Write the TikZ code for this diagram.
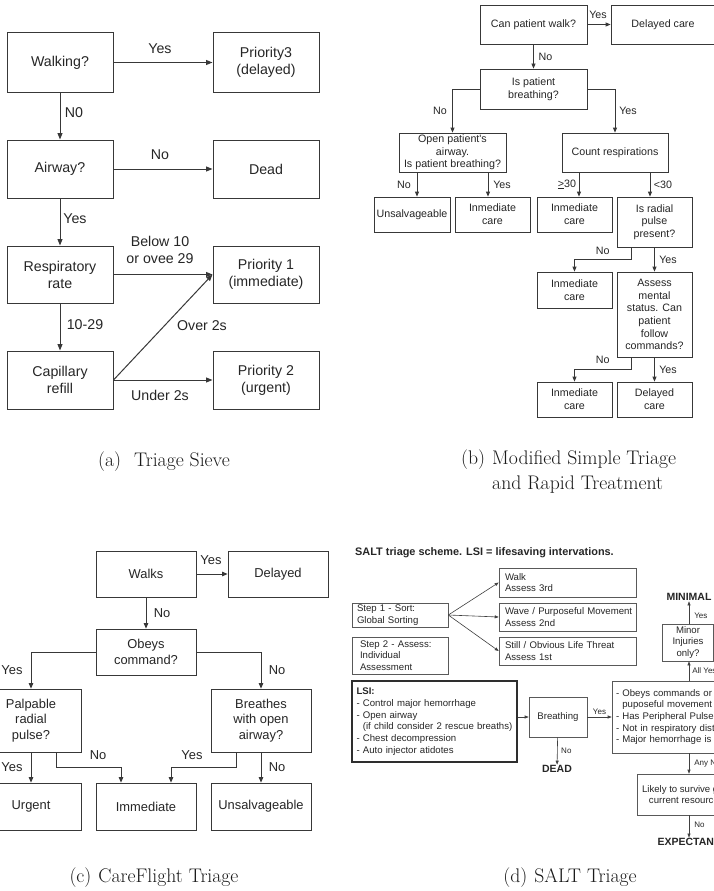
\documentclass[tikz,border=0pt]{standalone}
\usepackage{fontspec}
\newfontfamily\arial{Liberation Sans}
\usetikzlibrary{arrows.meta}

% font sizes for the four flowcharts and the captions
\newcommand\ffA{\arial\fontsize{14.2}{17}\selectfont}
\newcommand\ffB{\arial\fontsize{10.7}{12.7}\selectfont}
\newcommand\ffC{\arial\fontsize{12.9}{15.7}\selectfont}
\newcommand\ffD{\arial\fontsize{9.6}{11.7}\selectfont}
\newcommand\ffL{\arial\fontsize{8}{9.6}\selectfont}
\newcommand\ffO{\arial\bfseries\fontsize{10.5}{12}\selectfont}
\newcommand\ffT{\arial\bfseries\fontsize{10.9}{13}\selectfont}
\newcommand\ffCap{\fontsize{19.7}{25}\selectfont}

\tikzset{
  base/.style={inner sep=0pt, text=black!85, align=center},
  boxa/.style={base, draw=black!78, line width=1pt, minimum width=106pt, font=\ffA},
  boxb/.style={base, draw=black!78, line width=0.8pt, font=\ffB},
  boxc/.style={base, draw=black!78, line width=0.8pt, minimum width=100pt, font=\ffC},
  boxd/.style={base, draw=black!65, line width=0.6pt, font=\ffD},
  lboxd/.style={boxd, align=left, inner ysep=0pt},
  outd/.style={inner sep=0.5pt, text=black!85, font=\ffO},
  laba/.style={base, font=\ffA},
  labb/.style={base, font=\ffB},
  labc/.style={base, font=\ffC},
  labd/.style={base, font=\ffL},
  arra/.style={draw=black!78, line width=1pt, -{Triangle[length=6.5pt,width=5pt]}},
  arrb/.style={draw=black!78, line width=0.8pt, -{Triangle[length=5pt,width=4pt]}},
  arrc/.style={draw=black!78, line width=0.8pt, -{Triangle[length=5.5pt,width=4.5pt]}},
  arrd/.style={draw=black!75, line width=0.6pt, -{Triangle[length=4pt,width=3pt]}},
  captext/.style={inner sep=0pt, text=black!90, font=\ffCap},
}

\begin{document}
\begin{tikzpicture}[x=1pt, y=-1pt]
\useasboundingbox (0,0) rectangle (714,891);
\fill[white] (0,0) rectangle (714,891);
\clip (0,0) rectangle (714,891);

% ---------------- (a) Triage Sieve ----------------
\node[boxa, minimum height=59pt] (wa)   at (60,62.5)  {Walking?};
\node[boxa, minimum height=59pt] (p3)   at (266,62.5) {Priority3\\(delayed)};
\node[boxa, minimum height=58pt] (aw)   at (60,169)   {Airway?};
\node[boxa, minimum height=58pt] (dead) at (266,169)  {Dead};
\node[boxa, minimum height=57pt] (rr)   at (60,274.5) {Respiratory\\rate};
\node[boxa, minimum height=57pt] (p1)   at (266,274.5){Priority 1\\(immediate)};
\node[boxa, minimum height=58pt] (cr)   at (60,380)   {Capillary\\refill};
\node[boxa, minimum height=58pt] (p2)   at (266,380)  {Priority 2\\(urgent)};

\draw[arra] (wa) -- (p3) node[laba, midway, xshift=-3pt, yshift=13.5pt] {Yes};
\draw[arra] (wa) -- (aw) node[laba, midway, xshift=14pt, yshift=3pt] {N0};
\draw[arra] (aw) -- (dead) node[laba, midway, xshift=-3pt, yshift=14pt] {No};
\draw[arra] (aw) -- (rr) node[laba, midway, xshift=15pt, yshift=3pt] {Yes};
\draw[arra] (rr) -- (p1) node[laba, midway, xshift=-3pt, yshift=25pt] {Below 10\\or ovee 29};
\draw[arra] (rr) -- (cr) node[laba, midway, xshift=25pt, yshift=2pt] {10-29};
\draw[arra] (cr.east) -- (p1.west) node[laba, midway, xshift=39pt, yshift=2pt] {Over 2s};
\draw[arra] (cr) -- (p2) node[laba, midway, xshift=-3pt, yshift=-15pt] {Under 2s};

\node[captext] (capa) at (164,462) {(a)\hspace{13pt}Triage Sieve};

% ---------------- (b) Modified START ----------------
\node[boxb, minimum width=107pt, minimum height=39pt] (b1) at (533.5,24.5) {Can patient walk?};
\node[boxb, minimum width=104pt, minimum height=39pt] (b2) at (663,24.5) {Delayed care};
\node[boxb, minimum width=107pt, minimum height=40pt] (b3) at (533.5,89) {Is patient\\breathing?};
\node[boxb, minimum width=107pt, minimum height=39pt] (b4) at (452.5,152.5) {Open patient's\\airway.\\Is patient breathing?};
\node[boxb, minimum width=106pt, minimum height=39pt] (b5) at (615,152.5) {Count respirations};
\node[boxb, minimum width=76pt, minimum height=35pt] (b6) at (412,214.5) {Unsalvageable};
\node[boxb, minimum width=75pt, minimum height=35pt] (b7) at (492.5,214.5) {Inmediate\\care};
\node[boxb, minimum width=75pt, minimum height=35pt] (b8) at (574.5,214.5) {Inmediate\\care};
\node[boxb, minimum width=75pt, minimum height=50pt] (b9) at (654.5,222) {Is radial\\pulse\\present?};
\node[boxb, minimum width=75pt, minimum height=36pt] (b10) at (574.5,290) {Inmediate\\care};
\node[boxb, minimum width=75pt, minimum height=85pt] (b11) at (654.5,314.5) {Assess\\mental\\status. Can\\patient\\follow\\commands?};
\node[boxb, minimum width=75pt, minimum height=35pt] (b12) at (574.5,399.5) {Inmediate\\care};
\node[boxb, minimum width=75pt, minimum height=35pt] (b13) at (654.5,399.5) {Delayed\\care};

\draw[arrb] (b1) -- (b2) node[labb, midway, xshift=-1pt, yshift=9.5pt] {Yes};
\draw[arrb] (b1) -- (b3) node[labb, midway, xshift=12pt] {No};
\draw[arrb] (b3.west) -| (b4.north) node[labb, pos=0.75, xshift=-12.5pt] {No};
\draw[arrb] (b3.east) -| (b5.north) node[labb, pos=0.75, xshift=13pt] {Yes};
\draw[arrb] ([xshift=-35.5pt]b4.south) -- ([xshift=-35.5pt]b4.south |- b6.north)
  node[labb, midway, xshift=-13pt] {No};
\draw[arrb] ([xshift=35.5pt]b4.south) -- ([xshift=35.5pt]b4.south |- b7.north)
  node[labb, midway, xshift=14pt] {Yes};
\draw[arrb] ([xshift=-36pt]b5.south) -- ([xshift=-36pt]b5.south |- b8.north)
  node[labb, midway, xshift=-12pt] {\underline{>}30};
\draw[arrb] ([xshift=35pt]b5.south) -- ([xshift=35pt]b5.south |- b9.north)
  node[labb, midway, xshift=13pt] {<30};
\draw[arrb] ([xshift=-23.5pt]b9.south) -- ++(0,12) -| (b10.north)
  node[labb, pos=0.25, yshift=9pt] {No};
\draw[arrb] (b9) -- (b11) node[labb, midway, xshift=13.5pt] {Yes};
\draw[arrb] ([xshift=-23.5pt]b11.south) -- ++(0,12) -| (b12.north)
  node[labb, pos=0.25, yshift=10pt] {No};
\draw[arrb] (b11) -- (b13) node[labb, midway, xshift=13.5pt] {Yes};

\node[captext, anchor=west] (capb) at (461,472) {%
  \begin{tabular}{@{}l@{\hspace{7pt}}l@{}}(b)&Modified Simple Triage\\&and Rapid Treatment\end{tabular}};

% ---------------- (c) CareFlight Triage ----------------
\node[boxc, minimum height=46pt] (c1) at (146,574) {Walks};
\node[boxc, minimum height=46pt] (c2) at (278,574) {Delayed};
\node[boxc, minimum height=46pt] (c3) at (146,652) {Obeys\\command?};
\node[boxc, minimum height=63pt] (c4) at (31,720.5) {Palpable\\radial\\pulse?};
\node[boxc, minimum height=63pt] (c5) at (261,720.5) {Breathes\\with open\\airway?};
\node[boxc, minimum height=47pt] (c6) at (31,806.5) {Urgent};
\node[boxc, minimum height=47pt] (c7) at (146,806.5) {Immediate};
\node[boxc, minimum height=47pt] (c8) at (261,806.5) {Unsalvageable};

\draw[arrc] (c1) -- (c2) node[labc, midway, xshift=-1pt, yshift=14pt] {Yes};
\draw[arrc] (c1) -- (c3) node[labc, midway, xshift=16pt] {No};
\draw[arrc] (c3.west) -| (c4.north) node[labc, pos=0.75, xshift=-19pt] {Yes};
\draw[arrc] (c3.east) -| (c5.north) node[labc, pos=0.75, xshift=16pt] {No};
\draw[arrc] (c4) -- (c6) node[labc, midway, xshift=-19pt] {Yes};
\draw[arrc] ([xshift=25pt]c4.south) -- ++(0,15) -| ([xshift=-25pt]c7.north)
  node[labc, pos=0.25, xshift=9.5pt, yshift=12pt] {No};
\draw[arrc] ([xshift=-25pt]c5.south) -- ++(0,15) -| ([xshift=25pt]c7.north)
  node[labc, pos=0.25, xshift=-11.5pt, yshift=12pt] {Yes};
\draw[arrc] (c5) -- (c8) node[labc, midway, xshift=16pt] {No};

\node[captext] (capc) at (154,878) {(c)\hspace{7pt}CareFlight Triage};

% ---------------- (d) SALT Triage ----------------
\node[anchor=west, inner sep=0pt, text=black!85, font=\ffT] (dtitle) at (355,553)
  {SALT triage scheme. LSI = lifesaving intervations.};

\node[lboxd, inner xsep=6pt, text width=125pt, minimum height=29pt] (dwalk)  at (567.5,582.5) {Walk\\Assess 3rd};
\node[lboxd, inner xsep=6pt, text width=125pt, minimum height=28pt] (dwave)  at (567.5,617) {\mbox{Wave / Purposeful Movement}\\Assess 2nd};
\node[lboxd, inner xsep=6pt, text width=125pt, minimum height=28pt] (dstill) at (567.5,651) {\mbox{Still / Obvious Life Threat}\\Assess 1st};
\node[lboxd, inner xsep=5pt, text width=86pt, minimum height=24pt] (ds1) at (400,615) {Step 1 - Sort:\\Global Sorting};
\node[lboxd, inner xsep=8pt, text width=80pt, minimum height=37pt] (ds2) at (400,655.5) {\mbox{Step 2 - Assess:}\\Individual\\Assessment};
\node[lboxd, draw=black!82, line width=1.6pt, inner xsep=4.5pt, text width=156pt, minimum height=81pt] (dlsi) at (434.5,721.5)
  {\textbf{LSI:}\\- Control major hemorrhage\\- Open airway\\\mbox{\phantom{- }(if child consider 2 rescue breaths)}\\- Chest decompression\\- Auto injector atidotes};
\node[boxd, minimum width=58pt, minimum height=40pt] (dbr) at (558,717) {Breathing};
\node[lboxd, inner xsep=4pt, text width=146pt, minimum height=72pt] (dob) at (689,717)
  {- Obeys commands or\\\phantom{- }puposeful movement\\- Has Peripheral Pulse\\- Not in respiratory distress\\- Major hemorrhage is controlled};
\node[boxd, minimum width=51pt, minimum height=37pt] (dmin) at (688,642.5) {Minor\\Injuries\\only?};
\node[boxd, minimum width=104pt, minimum height=41pt] (dlik) at (689,794.5) {Likely to survive given\\current resources?};
\node[outd] (dmini) at (689,597) {MINIMAL};
\node[outd] (ddead) at (557,769) {DEAD};
\node[outd] (dexp)  at (689,842) {EXPECTANT};

\draw[arrd] (ds1.east) -- (dwalk.west);
\draw[arrd] (ds1.east) -- (dwave.west);
\draw[arrd] (ds1.east) -- (dstill.west);
\draw[arrd] (dlsi.east |- dbr.west) -- (dbr.west);
\draw[arrd] (dbr) -- (dob) node[labd, midway, yshift=5pt] {Yes};
\draw[arrd] (dbr) -- (ddead) node[labd, midway, xshift=9pt] {No};
\draw[arrd] (dob.north) -- (dob.north |- dmin.south)
  node[labd, midway, anchor=west, xshift=3pt] {All Yes};
\draw[arrd] (dob.north |- dmin.north) -- (dmini)
  node[labd, midway, anchor=west, xshift=5pt, yshift=-3pt] {Yes};
\draw[arrd] (dob) -- (dlik) node[labd, midway, anchor=west, xshift=5pt] {Any No};
\draw[arrd] (dlik) -- (dexp) node[labd, midway, anchor=west, xshift=5pt, yshift=2pt] {No};

\node[captext] (capd) at (570,878) {(d)\hspace{7pt}SALT Triage};
\end{tikzpicture}
\end{document}
